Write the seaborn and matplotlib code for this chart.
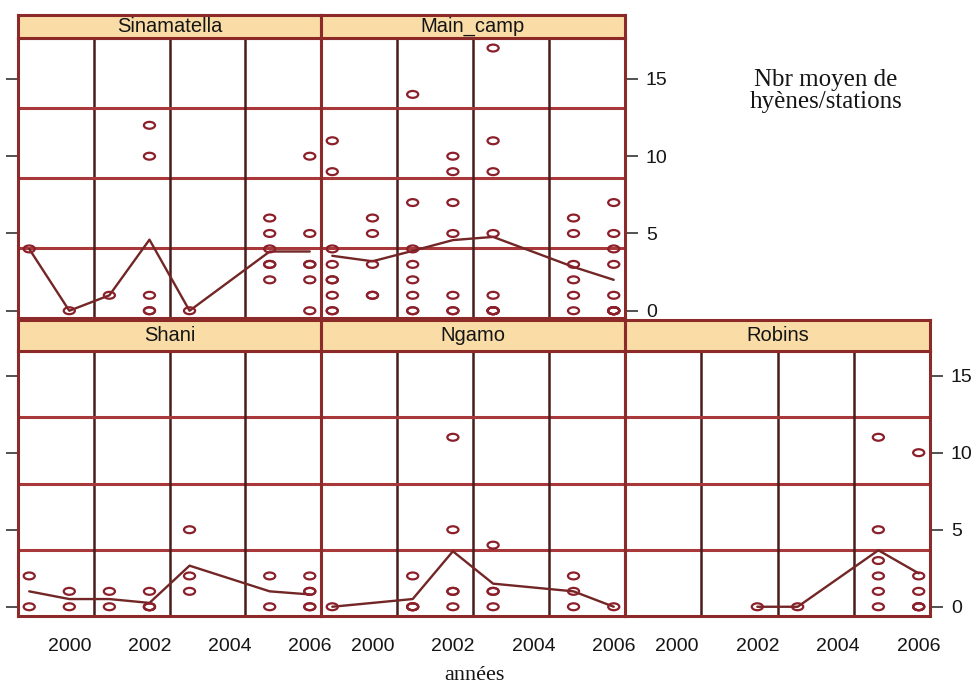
import matplotlib
matplotlib.use("Agg")
import numpy as np
import pandas as pd
import matplotlib.pyplot as plt
import seaborn as sns
from matplotlib.path import Path


# ──────────────────────────────────────────────
# Data: hyena counts per station, one list per year
# ──────────────────────────────────────────────

years = [1999, 2000, 2001, 2002, 2003, 2005, 2006]

sinamatella = [[4], [0], [1], [12, 10, 1, 0, 0], [0],
               [6, 5, 4, 3, 3, 2], [10, 5, 3, 3, 2, 0]]
main_camp = [[11, 9, 4, 3, 2, 2, 1, 0, 0], [6, 5, 3, 1, 1],
             [14, 7, 4, 3, 2, 1, 0, 0], [10, 9, 7, 5, 1, 0, 0],
             [17, 11, 9, 5, 1, 0, 0, 0, 0], [6, 5, 3, 2, 1, 0],
             [7, 5, 4, 3, 1, 0, 0, 0, 0, 0]]
shani = [[2, 0], [1, 0], [1, 0], [1, 0, 0, 0], [5, 2, 1], [2, 0], [2, 1, 1, 0, 0]]
ngamo = [[0], [], [2, 0, 0, 0], [11, 5, 1, 1, 0], [4, 1, 1, 0], [2, 1, 0], [0]]
robins = [[], [], [], [0], [0], [11, 5, 3, 2, 1, 0], [10, 2, 1, 0, 0, 0]]

sites = ["Sinamatella", "Main_camp", "Shani", "Ngamo", "Robins"]
counts = [sinamatella, main_camp, shani, ngamo, robins]

year_ticks = [2000, 2002, 2004, 2006]
count_ticks = [0, 5, 10, 15]

rows = []
for site, per_year in zip(sites, counts):
    for yr, vals in zip(years, per_year):
        for v in vals:
            rows.append({"site": site, "year": yr, "count": v})
df = pd.DataFrame(rows)

# ──────────────────────────────────────────────
# Style
# ──────────────────────────────────────────────

sns.set_style("white")
plt.rcParams["font.family"] = ["Liberation Sans", "DejaVu Sans"]

FRAME = "#8c2a2a"
HGRID = "#a8383a"
VGRID = "#4a1c1c"
POINT = "#8b1f2a"
LINE = "#722626"
STRIP = "#f9dca6"
INK = "#151515"
SERIF = ["Liberation Serif", "DejaVu Serif"]

# flattened circle, like the scanned lattice symbols
circ = Path.unit_circle()
ellipse = Path(circ.vertices * np.array([1.0, 0.62]), circ.codes)

W, H = 976, 688
fig = plt.figure(figsize=(W / 100, H / 100), dpi=100)


def px(x0, y0, x1, y1):
    return [x0 / W, 1 - y1 / H, (x1 - x0) / W, (y1 - y0) / H]


cols = [(18, 321), (321, 625), (625, 930)]
top = dict(strip=(15, 38), panel=(38, 318), ylim=(-0.47, 17.65), bottom=False)
bot = dict(strip=(320, 351), panel=(351, 616), ylim=(-0.6, 16.6), bottom=True)
layout = {
    "Sinamatella": (top, 0, "left"),
    "Main_camp": (top, 1, "right"),
    "Shani": (bot, 0, "left"),
    "Ngamo": (bot, 1, None),
    "Robins": (bot, 2, "right"),
}
xlim = (1998.72, 2006.28)

for site in sites:
    row, c, yside = layout[site]
    x0, x1 = cols[c]
    sub = df[df["site"] == site]

    ax = fig.add_axes(px(x0, row["panel"][0], x1, row["panel"][1]))
    ax.set_xlim(*xlim)
    ax.set_ylim(*row["ylim"])

    # panel grid: 4 x 4 equal cells
    y0, y1 = row["ylim"]
    for f in (0.25, 0.5, 0.75):
        ax.axhline(y0 + f * (y1 - y0), color=HGRID, lw=2.2, zorder=1)
        ax.axvline(xlim[0] + f * (xlim[1] - xlim[0]), color=VGRID, lw=1.8, zorder=1)

    sns.lineplot(data=sub, x="year", y="count", estimator="mean", errorbar=None,
                 color=LINE, lw=1.7, ax=ax, zorder=2)
    sns.scatterplot(data=sub, x="year", y="count", marker=ellipse, s=64,
                    facecolors="none", edgecolor=POINT, linewidth=1.6,
                    ax=ax, zorder=3)
    ax.set_xlabel("")
    ax.set_ylabel("")

    for sp in ax.spines.values():
        sp.set_color(FRAME)
        sp.set_linewidth(2.2)

    ax.set_xticks(year_ticks)
    ax.set_yticks(count_ticks)
    if row["bottom"]:
        ax.tick_params(axis="x", direction="out", length=6, width=1.2, color="#333333",
                       labelsize=14, labelcolor=INK, pad=10)
    else:
        ax.tick_params(axis="x", length=0, labelbottom=False)

    if yside == "left":
        ax.tick_params(axis="y", direction="out", length=9, width=1.2, color="#333333",
                       left=True, labelleft=False)
    elif yside == "right":
        ax.tick_params(axis="y", direction="out", length=9, width=1.2, color="#333333",
                       left=False, labelleft=False, right=True, labelright=True,
                       labelsize=14, labelcolor=INK, pad=6)
    else:
        ax.tick_params(axis="y", length=0, labelleft=False)

    # strip with the site name
    sx = fig.add_axes(px(x0, row["strip"][0], x1, row["strip"][1]))
    sx.set_facecolor(STRIP)
    sx.set_xticks([])
    sx.set_yticks([])
    for sp in sx.spines.values():
        sp.set_color(FRAME)
        sp.set_linewidth(2.2)
    sx.text(0.5, 0.5, site, ha="center", va="center", fontsize=14.5,
            color=INK, transform=sx.transAxes)

fig.text(826 / W, 1 - 91 / H, "Nbr moyen de\nhyènes/stations", ha="center", va="center",
         family=SERIF, fontsize=18, linespacing=1.0, color=INK)
fig.text(474 / W, 1 - 676 / H, "années", ha="center", va="center",
         family=SERIF, fontsize=16, color=INK)

fig.savefig("out.png", dpi=100)
